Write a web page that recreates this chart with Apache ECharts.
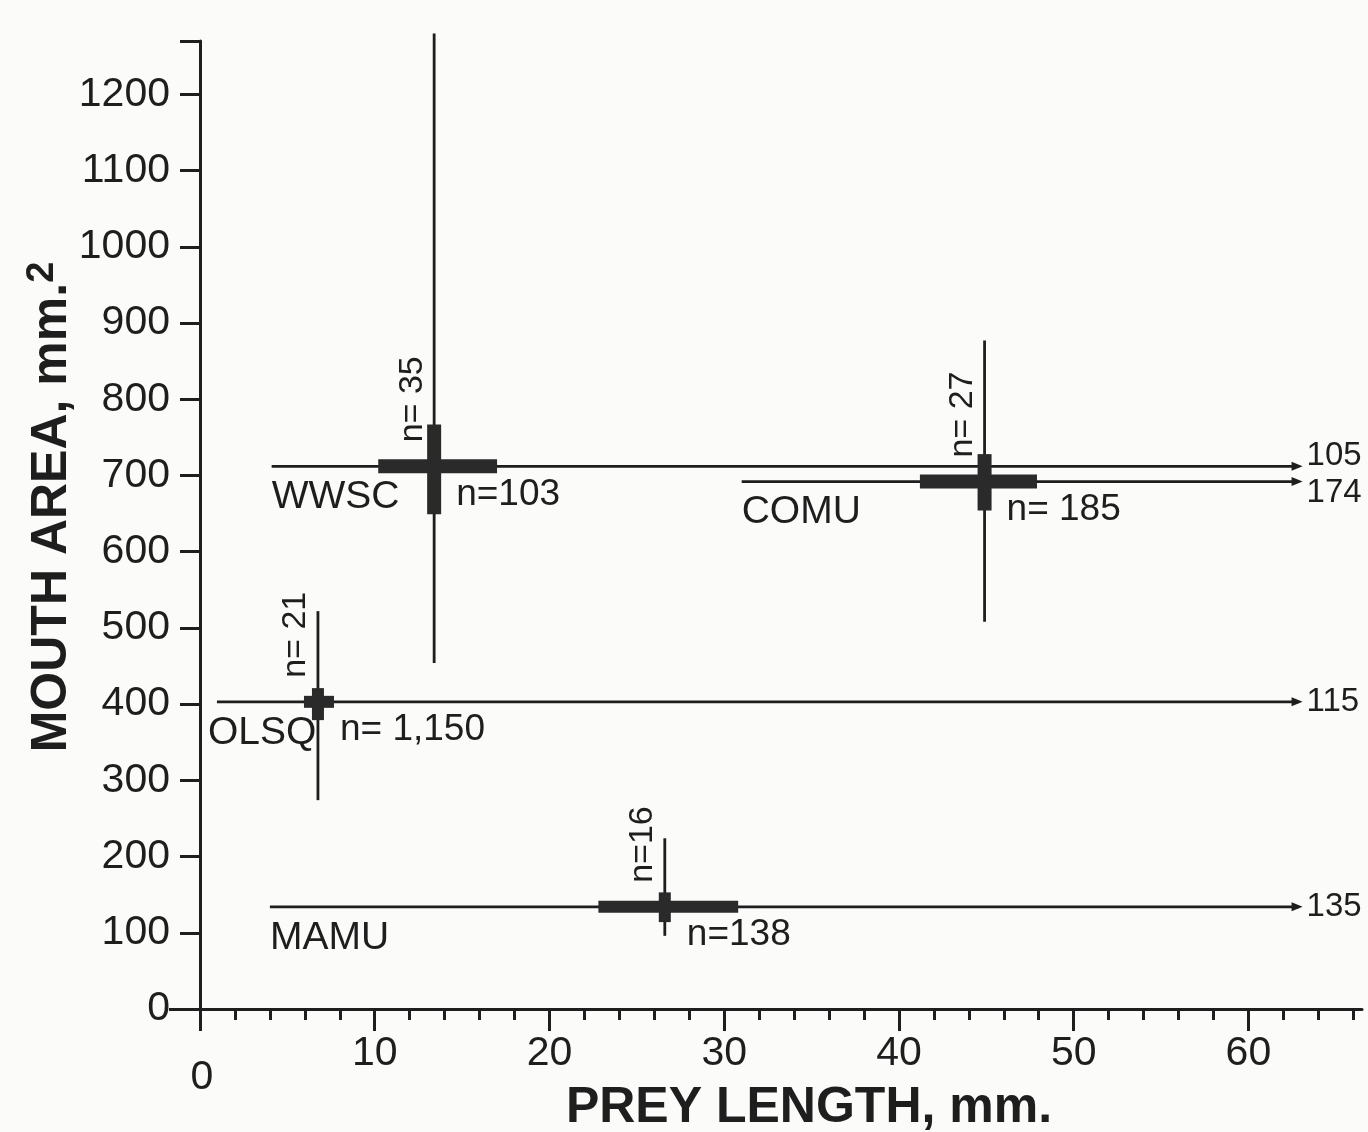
<!DOCTYPE html>
<html>
<head>
<meta charset="utf-8">
<script src="https://cdn.jsdelivr.net/npm/echarts@6/dist/echarts.min.js"></script>
<style>
html,body{margin:0;padding:0;background:#fbfbfa;}
#chart{width:1368px;height:1132px;}
</style>
</head>
<body>
<div id="chart"></div>
<script>
// ---- data ----
const species   = ['WWSC', 'COMU', 'OLSQ', 'MAMU'];
const nAreaText = ['n= 35', 'n= 27', 'n= 21', 'n=16'];
const nPreyText = ['n=103', 'n= 185', 'n= 1,150', 'n=138'];
// prey length (mm)
const preyMean  = [13.4, 44.9, 6.75, 26.6];
const preyMin   = [4.1, 31.0, 0.97, 4.0];
const preyMax   = [105, 174, 115, 135];
const preyLow   = [10.2, 41.2, 5.95, 22.8];
const preyHigh  = [17.0, 47.9, 7.67, 30.8];
// mouth area (mm^2)
const areaMean  = [712, 692, 403, 134];
const areaMin   = [454, 508, 274, 96];
const areaMax   = [1280, 877, 522, 224];
const areaLow   = [649, 654, 379, 114];
const areaHigh  = [767, 728, 421, 153];
// axes
const xMajorTicks = [0, 10, 20, 30, 40, 50, 60];
const xMinorTicks = [2,4,6,8,12,14,16,18,22,24,26,28,32,34,36,38,42,44,46,48,52,54,56,58,62,64,66];
const yTicks      = [0,100,200,300,400,500,600,700,800,900,1000,1100,1200];
const X_MAX = 66.5, Y_MAX = 1270;
const OFF_SCALE_END = 63.1; // where off-scale ranges are cut with an arrow

const INK = '#1e1e1e';
const FONT = '"Liberation Sans", Arial, sans-serif';
const TITLE_FONT = '"Liberation Sans", Arial, sans-serif';

const chart = echarts.init(document.getElementById('chart'), null, {renderer: 'canvas'});

function renderItem(params, api) {
  const i = params.dataIndex;
  const c = api.coord([preyMean[i], areaMean[i]]);
  const cx = c[0], cy = c[1];
  const capped = preyMax[i] > X_MAX;
  const x0 = api.coord([preyMin[i], areaMean[i]])[0];
  const x1 = api.coord([capped ? OFF_SCALE_END : preyMax[i], areaMean[i]])[0];
  const xl = api.coord([preyLow[i], areaMean[i]])[0];
  const xh = api.coord([preyHigh[i], areaMean[i]])[0];
  const yt = api.coord([preyMean[i], areaMax[i]])[1];
  const yb = api.coord([preyMean[i], areaMin[i]])[1];
  const yh = api.coord([preyMean[i], areaHigh[i]])[1];
  const yl = api.coord([preyMean[i], areaLow[i]])[1];
  const thick = i < 2 ? 14 : 12;
  const kids = [];
  kids.push({type:'line', shape:{x1:x0, y1:cy, x2:x1 - (capped?4:0), y2:cy}, style:{stroke:INK, lineWidth:2.8}});
  kids.push({type:'line', shape:{x1:cx, y1:yt, x2:cx, y2:yb}, style:{stroke:INK, lineWidth:2.8}});
  kids.push({type:'rect', shape:{x:xl, y:cy - thick/2, width:xh - xl, height:thick}, style:{fill:'#2a2a2a'}});
  kids.push({type:'rect', shape:{x:cx - thick/2, y:yh, width:thick, height:yl - yh}, style:{fill:'#2a2a2a'}});
  if (capped) {
    kids.push({type:'polygon', shape:{points:[[x1-11, cy-4.5],[x1, cy],[x1-11, cy+4.5]]}, style:{fill:INK}});
    const nudge = i === 0 ? -10 : (i === 1 ? 11 : 0);
    kids.push({type:'text', x:x1 + 4, y:cy + nudge, style:{text:String(preyMax[i]), fill:INK, font:'33px ' + FONT, textAlign:'left', textVerticalAlign:'middle'}});
  }
  kids.push({type:'text', x:x0 + (i === 2 ? -9 : 0), y:cy + 31, style:{text:species[i], fill:INK, font:'39px ' + FONT, textAlign:'left', textVerticalAlign:'middle'}});
  kids.push({type:'text', x:cx + 22, y:cy + 28, style:{text:nPreyText[i], fill:INK, font:'37px ' + FONT, textAlign:'left', textVerticalAlign:'middle'}});
  kids.push({type:'text', x:cx - 22, y:cy - 24, rotation:Math.PI/2, style:{text:nAreaText[i], fill:INK, font:'34px ' + FONT, textAlign:'left', textVerticalAlign:'middle'}});
  return {type:'group', children:kids};
}

const axisText = {color: INK, fontSize: 41, fontFamily: FONT};

chart.setOption({
  backgroundColor: '#fbfbfa',
  animation: false,
  grid: {left: 200, right: 6, top: 41, bottom: 123, containLabel: false, outerBoundsMode: 'none'},
  xAxis: [{
    type: 'value', min: 0, max: X_MAX, position: 'bottom',
    name: 'PREY LENGTH, mm.', nameLocation: 'middle', nameGap: 74, nameMoveOverlap: false,
    nameTextStyle: {fontFamily: TITLE_FONT, fontWeight: 'bold', fontSize: 50, color: INK, padding: [0,0,0,56]},
    splitLine: {show: false},
    axisLine: {show: true, lineStyle: {color: INK, width: 3}},
    axisTick: {show: true, customValues: xMajorTicks, length: 22, lineStyle: {color: INK, width: 3}},
    axisLabel: {show: true, customValues: xMajorTicks, margin: 24, ...axisText,
      formatter: v => v === 0 ? '{z|0}' : String(v),
      rich: {z: {fontSize: 41, fontFamily: FONT, color: INK, padding: [24, 0, 0, 4]}}}
  }, {
    type: 'value', min: 0, max: X_MAX, position: 'bottom', gridIndex: 0,
    splitLine: {show: false},
    axisLine: {show: false},
    axisTick: {show: true, customValues: xMinorTicks, length: 11, lineStyle: {color: INK, width: 3}},
    axisLabel: {show: false}
  }],
  yAxis: [{
    type: 'value', min: 0, max: Y_MAX, position: 'left',
    name: '{a|MOUTH AREA, mm.}{s|2}', nameLocation: 'middle', nameGap: 120, nameRotate: 90, nameMoveOverlap: false,
    nameTextStyle: {padding: [0,0,0,36], rich: {
      a: {fontFamily: TITLE_FONT, fontWeight: 'bold', fontSize: 50, color: INK, lineHeight: 56},
      s: {fontFamily: TITLE_FONT, fontWeight: 'bold', fontSize: 38, color: INK, verticalAlign: 'top', lineHeight: 56, padding: [0,0,14,0]}
    }},
    splitLine: {show: false},
    axisLine: {show: true, lineStyle: {color: INK, width: 3}},
    axisTick: {show: true, customValues: yTicks.concat([Y_MAX]), length: 20, lineStyle: {color: INK, width: 3}},
    axisLabel: {show: true, customValues: yTicks, margin: 30, ...axisText, formatter: v => String(v)}
  }, {
    type: 'value', min: 0, max: Y_MAX, position: 'left', gridIndex: 0,
    splitLine: {show: false},
    axisLine: {show: false},
    axisTick: {show: true, customValues: [0], length: 31, lineStyle: {color: INK, width: 3}},
    axisLabel: {show: false}
  }],
  series: [{
    type: 'custom',
    clip: false,
    renderItem: renderItem,
    data: species.map((s, i) => [preyMean[i], areaMean[i]])
  }]
});
</script>
</body>
</html>
